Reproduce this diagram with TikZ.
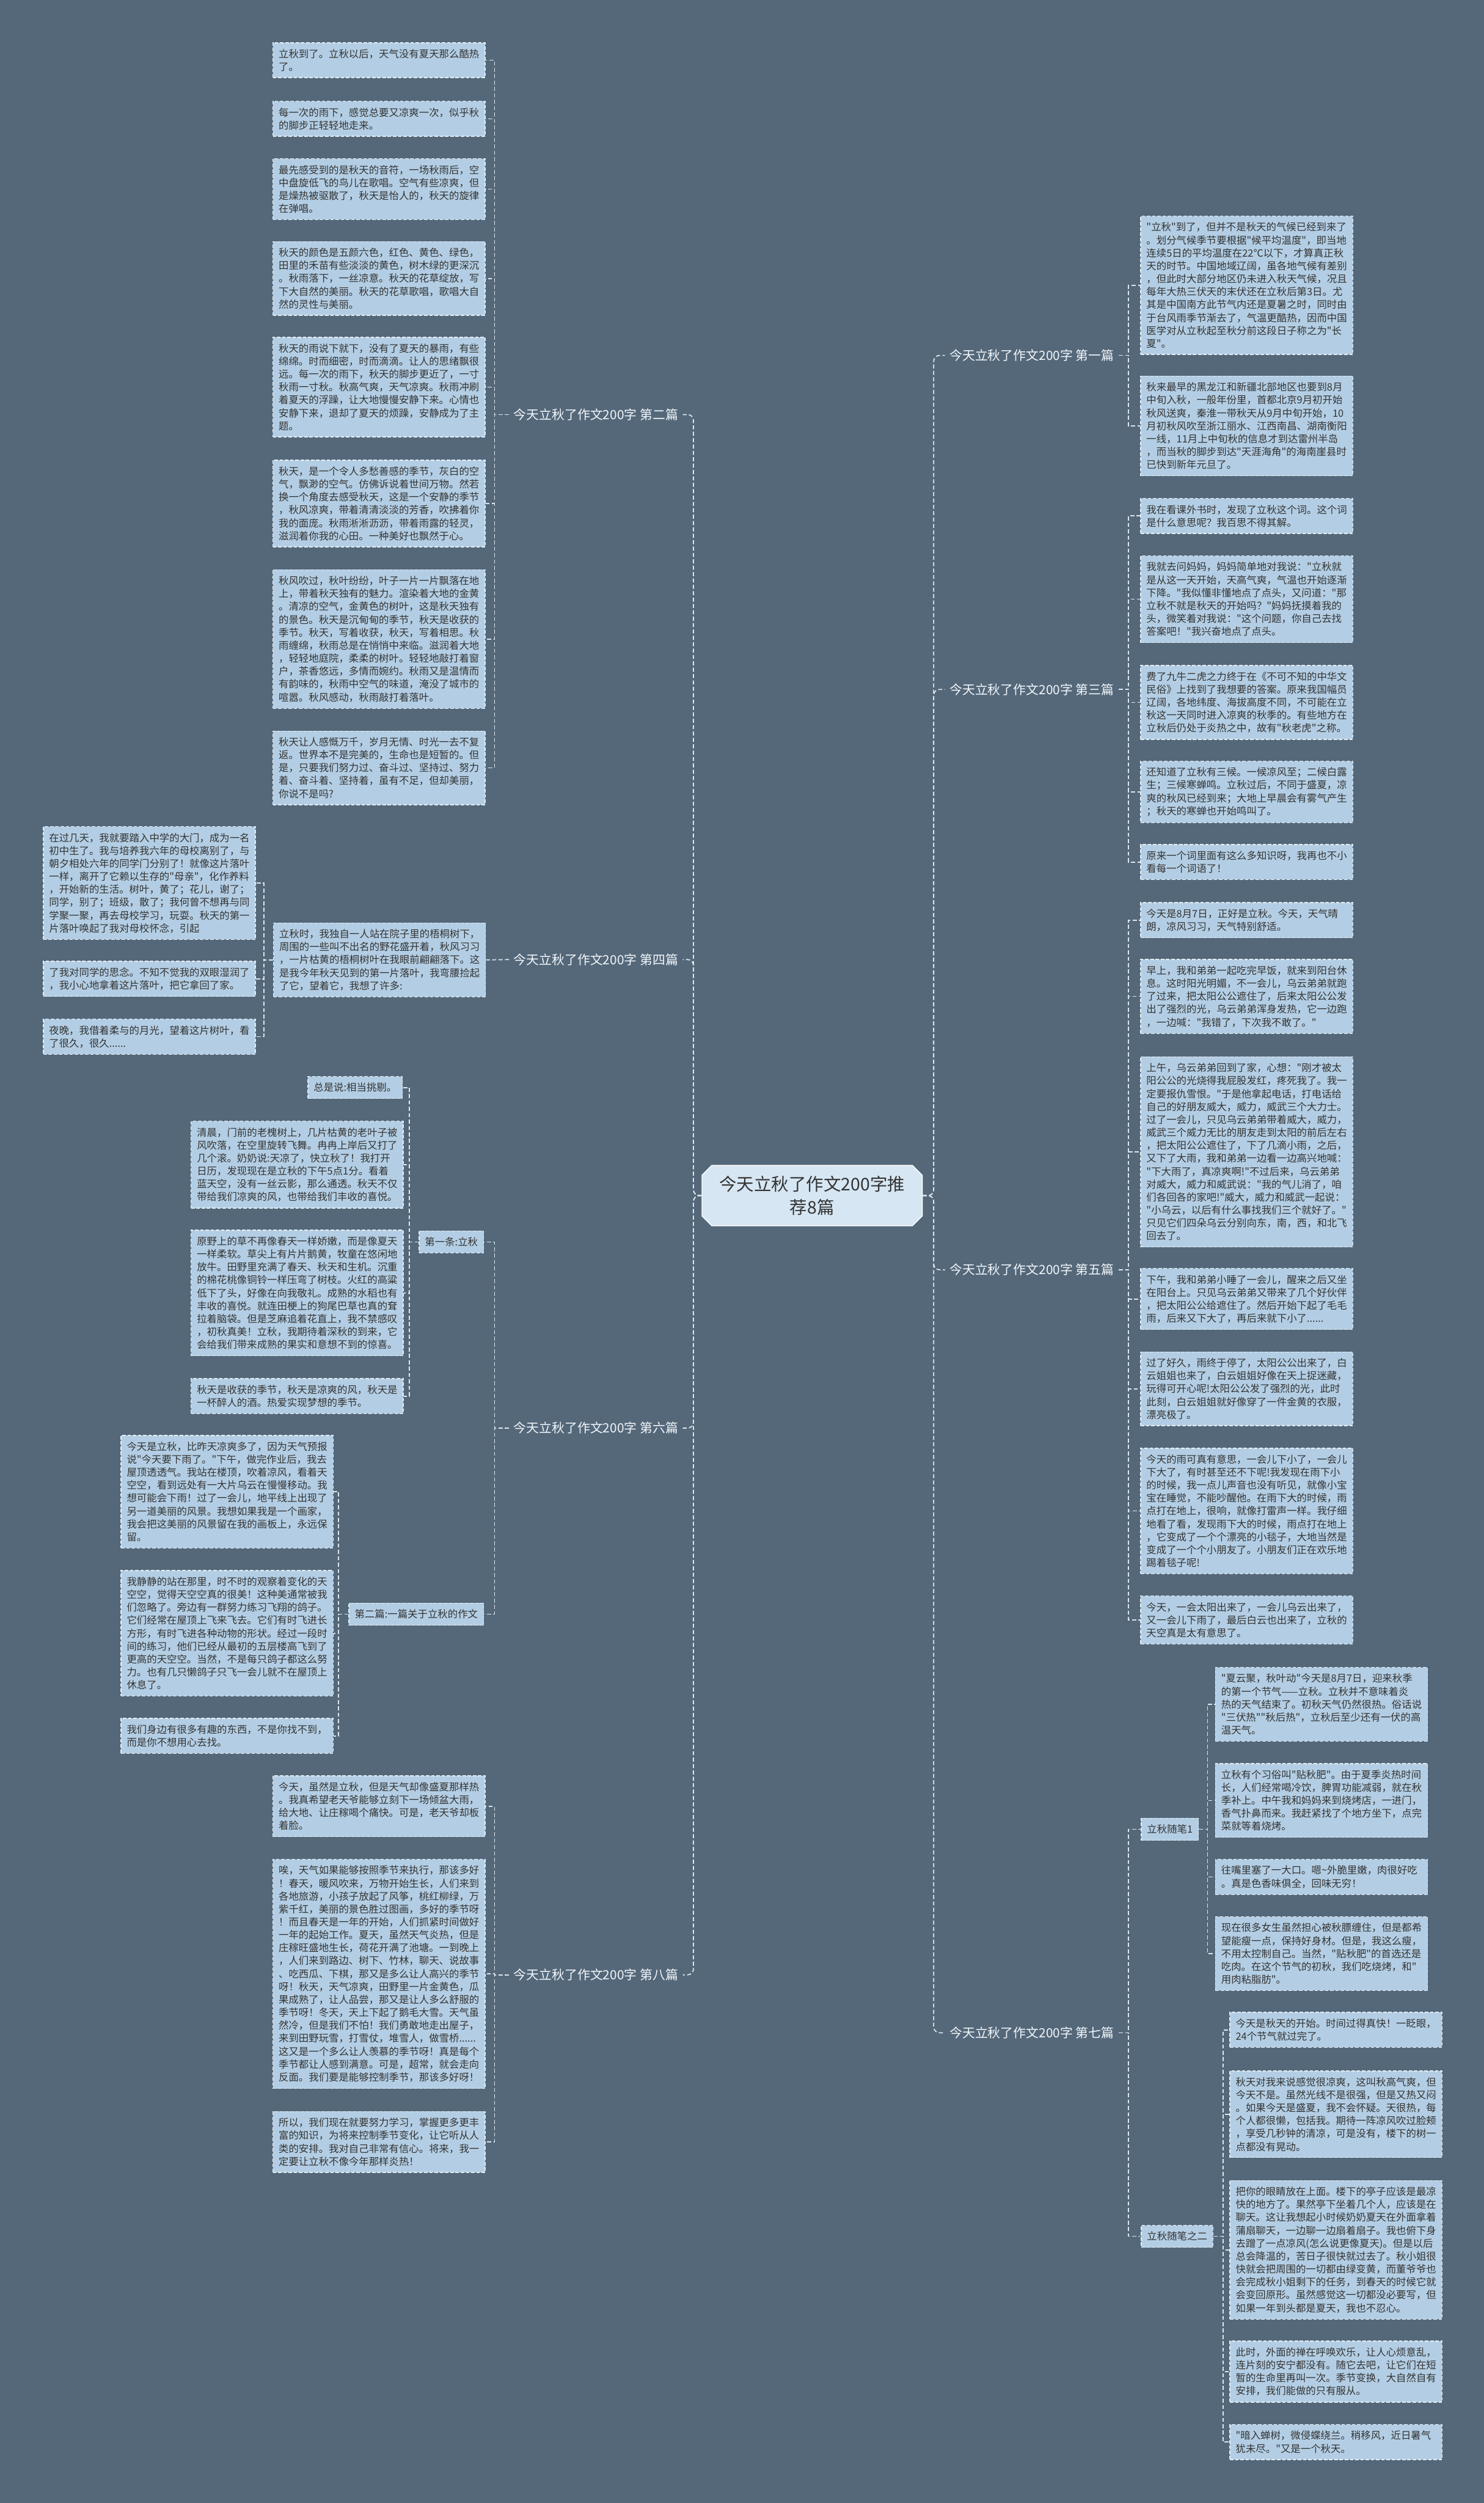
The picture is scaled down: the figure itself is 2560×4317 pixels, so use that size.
\documentclass[tikz,border=0pt]{standalone}
\usepackage{fontspec}
\newfontfamily\cjkfont{Noto Sans CJK SC}
\usetikzlibrary{shapes.misc}
\definecolor{bgc}{HTML}{54687A}
\definecolor{leaffill}{HTML}{B3CEE4}
\definecolor{txt}{HTML}{333333}
\definecolor{bord}{HTML}{E3ECF3}
\definecolor{conncol}{HTML}{DDE6EE}
\definecolor{rootfill}{HTML}{D6E6F3}
\definecolor{labtxt}{HTML}{F2F6FA}
\newcommand{\leaffont}{\cjkfont\fontsize{17.3}{22.3}\selectfont}
\tikzset{
  leaf/.style={draw=bord, dash pattern=on 6pt off 3pt, line width=1.4pt, fill=leaffill, text=txt, font=\leaffont, align=left, text width=346pt, inner xsep=10pt, inner ysep=11pt, anchor=north west},
  subbox/.style={draw=bord, dash pattern=on 6pt off 3pt, line width=1.4pt, fill=leaffill, text=txt, font=\leaffont, inner xsep=10pt, inner ysep=11pt},
  branch/.style={text=labtxt, font=\cjkfont\fontsize{22}{26}\selectfont, inner xsep=8pt, inner ysep=6pt},
  conn/.style={draw=conncol, line width=1.8pt, dash pattern=on 7pt off 4pt},
  root/.style={chamfered rectangle, chamfered rectangle xsep=14pt, draw=white, line width=1.5pt, fill=rootfill, text=txt, font=\cjkfont\fontsize{30}{40}\selectfont, align=center, minimum width=380pt, minimum height=104pt, inner sep=4pt}
}
\begin{document}
\begin{tikzpicture}[x=1pt,y=-1pt]
\fill[bgc] (0,0) rectangle (2560,4317);
\useasboundingbox (0,0) rectangle (2560,4317);

% root
\node[root] (root) at (1401,2062) {今天立秋了作文200字推\\荐8篇};

% branch labels
\node[branch, anchor=east] (b2) at (1178,715) {今天立秋了作文200字 第二篇};
\node[branch, anchor=east] (b4) at (1178,1655) {今天立秋了作文200字 第四篇};
\node[branch, anchor=east] (b6) at (1178,2463) {今天立秋了作文200字 第六篇};
\node[branch, anchor=east] (b8) at (1178,3406) {今天立秋了作文200字 第八篇};
\node[branch, anchor=west] (r1) at (1630,613) {今天立秋了作文200字 第一篇};
\node[branch, anchor=west] (r3) at (1630,1189) {今天立秋了作文200字 第三篇};
\node[branch, anchor=west] (r5) at (1630,2190) {今天立秋了作文200字 第五篇};
\node[branch, anchor=west] (r7) at (1630,3506) {今天立秋了作文200字 第七篇};

% 第二篇
\node[leaf] (l2a) at (470,73) {立秋到了。立秋以后，天气没有夏天那么酷热\\了。};
\node[leaf] (l2b) at (470,174) {每一次的雨下，感觉总要又凉爽一次，似乎秋\\的脚步正轻轻地走来。};
\node[leaf] (l2c) at (470,273) {最先感受到的是秋天的音符，一场秋雨后，空\\中盘旋低飞的鸟儿在歌唱。空气有些凉爽，但\\是燥热被驱散了，秋天是怡人的，秋天的旋律\\在弹唱。};
\node[leaf] (l2d) at (470,416) {秋天的颜色是五颜六色，红色、黄色、绿色，\\田里的禾苗有些淡淡的黄色，树木绿的更深沉\\。秋雨落下，一丝凉意。秋天的花草绽放，写\\下大自然的美丽。秋天的花草歌唱，歌唱大自\\然的灵性与美丽。};
\node[leaf] (l2e) at (470,581) {秋天的雨说下就下，没有了夏天的暴雨，有些\\绵绵。时而细密，时而滴滴。让人的思绪飘很\\远。每一次的雨下，秋天的脚步更近了，一寸\\秋雨一寸秋。秋高气爽，天气凉爽。秋雨冲刷\\着夏天的浮躁，让大地慢慢安静下来。心情也\\安静下来，退却了夏天的烦躁，安静成为了主\\题。};
\node[leaf] (l2f) at (470,793) {秋天，是一个令人多愁善感的季节，灰白的空\\气，飘渺的空气。仿佛诉说着世间万物。然若\\换一个角度去感受秋天，这是一个安静的季节\\，秋风凉爽，带着清清淡淡的芳香，吹拂着你\\我的面庞。秋雨淅淅沥沥，带着雨露的轻灵，\\滋润着你我的心田。一种美好也飘然于心。};
\node[leaf] (l2g) at (470,982) {秋风吹过，秋叶纷纷，叶子一片一片飘落在地\\上，带着秋天独有的魅力。渲染着大地的金黄\\。清凉的空气，金黄色的树叶，这是秋天独有\\的景色。秋天是沉甸甸的季节，秋天是收获的\\季节。秋天，写着收获，秋天，写着相思。秋\\雨缠绵，秋雨总是在悄悄中来临。滋润着大地\\，轻轻地庭院，柔柔的树叶。轻轻地敲打着窗\\户，茶香悠远，多情而婉约。秋雨又是温情而\\有韵味的，秋雨中空气的味道，淹没了城市的\\喧嚣。秋风感动，秋雨敲打着落叶。};
\node[leaf] (l2h) at (470,1260) {秋天让人感慨万千，岁月无情、时光一去不复\\返。世界本不是完美的，生命也是短暂的。但\\是，只要我们努力过、奋斗过、坚持过、努力\\着、奋斗着、坚持着，虽有不足，但却美丽，\\你说不是吗?};

% 第四篇
\node[leaf] (d4) at (471,1591) {立秋时，我独自一人站在院子里的梧桐树下，\\周围的一些叫不出名的野花盛开着，秋风习习\\，一片枯黄的梧桐树叶在我眼前翩翩落下。这\\是我今年秋天见到的第一片落叶，我弯腰捡起\\了它，望着它，我想了许多:};
\node[leaf] (a4) at (74,1425) {在过几天，我就要踏入中学的大门，成为一名\\初中生了。我与培养我六年的母校离别了，与\\朝夕相处六年的同学门分别了！就像这片落叶\\一样，离开了它赖以生存的"母亲"，化作养料\\，开始新的生活。树叶，黄了；花儿，谢了；\\同学，别了；班级，散了；我何曾不想再与同\\学聚一聚，再去母校学习，玩耍。秋天的第一\\片落叶唤起了我对母校怀念，引起};
\node[leaf] (bb4) at (74,1657) {了我对同学的思念。不知不觉我的双眼湿润了\\，我小心地拿着这片落叶，把它拿回了家。};
\node[leaf] (c4) at (74,1757) {夜晚，我借着柔与的月光，望着这片树叶，看\\了很久，很久......};

% 第六篇
\node[subbox, anchor=east] (s61) at (835,2142) {第一条:立秋};
\node[subbox, anchor=north east] (l61a) at (695,1856) {总是说:相当挑剔。};
\node[leaf] (l61b) at (329,1933) {清晨，门前的老槐树上，几片枯黄的老叶子被\\风吹落，在空里旋转飞舞。冉冉上岸后又打了\\几个滚。奶奶说:天凉了，快立秋了！我打开\\日历，发现现在是立秋的下午5点1分。看着\\蓝天空，没有一丝云影，那么通透。秋天不仅\\带给我们凉爽的风，也带给我们丰收的喜悦。};
\node[leaf] (l61c) at (329,2121) {原野上的草不再像春天一样娇嫩，而是像夏天\\一样柔软。草尖上有片片鹅黄，牧童在悠闲地\\放牛。田野里充满了春天、秋天和生机。沉重\\的棉花桃像铜铃一样压弯了树枝。火红的高粱\\低下了头，好像在向我敬礼。成熟的水稻也有\\丰收的喜悦。就连田梗上的狗尾巴草也真的耷\\拉着脑袋。但是芝麻追着花直上，我不禁感叹\\，初秋真美！立秋，我期待着深秋的到来，它\\会给我们带来成熟的果实和意想不到的惊喜。};
\node[leaf] (l61d) at (329,2377) {秋天是收获的季节，秋天是凉爽的风，秋天是\\一杯醉人的酒。热爱实现梦想的季节。};
\node[subbox, anchor=east] (s62) at (835,2784) {第二篇:一篇关于立秋的作文};
\node[leaf] (l62a) at (208,2475) {今天是立秋，比昨天凉爽多了，因为天气预报\\说"今天要下雨了。"下午，做完作业后，我去\\屋顶透透气。我站在楼顶，吹着凉风，看着天\\空空，看到远处有一大片乌云在慢慢移动。我\\想可能会下雨！过了一会儿，地平线上出现了\\另一道美丽的风景。我想如果我是一个画家，\\我会把这美丽的风景留在我的画板上，永远保\\留。};
\node[leaf] (l62b) at (208,2708) {我静静的站在那里，时不时的观察着变化的天\\空空，觉得天空空真的很美！这种美通常被我\\们忽略了。旁边有一群努力练习飞翔的鸽子。\\它们经常在屋顶上飞来飞去。它们有时飞进长\\方形，有时飞进各种动物的形状。经过一段时\\间的练习，他们已经从最初的五层楼高飞到了\\更高的天空空。当然，不是每只鸽子都这么努\\力。也有几只懒鸽子只飞一会儿就不在屋顶上\\休息了。};
\node[leaf] (l62c) at (208,2963) {我们身边有很多有趣的东西，不是你找不到，\\而是你不想用心去找。};

% 第八篇
\node[leaf] (l8a) at (470,3062) {今天，虽然是立秋，但是天气却像盛夏那样热\\。我真希望老天爷能够立刻下一场倾盆大雨，\\给大地、让庄稼喝个痛快。可是，老天爷却板\\着脸。};
\node[leaf] (l8b) at (470,3206) {唉，天气如果能够按照季节来执行，那该多好\\！春天，暖风吹来，万物开始生长，人们来到\\各地旅游，小孩子放起了风筝，桃红柳绿，万\\紫千红，美丽的景色胜过图画，多好的季节呀\\！而且春天是一年的开始，人们抓紧时间做好\\一年的起始工作。夏天，虽然天气炎热，但是\\庄稼旺盛地生长，荷花开满了池塘。一到晚上\\，人们来到路边、树下、竹林，聊天、说故事\\、吃西瓜、下棋，那又是多么让人高兴的季节\\呀！秋天，天气凉爽，田野里一片金黄色，瓜\\果成熟了，让人品尝，那又是让人多么舒服的\\季节呀！冬天，天上下起了鹅毛大雪。天气虽\\然冷，但是我们不怕！我们勇敢地走出屋子，\\来到田野玩雪，打雪仗，堆雪人，做雪桥......\\这又是一个多么让人羡慕的季节呀！真是每个\\季节都让人感到满意。可是，超常，就会走向\\反面。我们要是能够控制季节，那该多好呀！};
\node[leaf] (l8c) at (470,3641) {所以，我们现在就要努力学习，掌握更多更丰\\富的知识，为将来控制季节变化，让它听从人\\类的安排。我对自己非常有信心。将来，我一\\定要让立秋不像今年那样炎热！};

% 第一篇
\node[leaf] (l1a) at (1967,372) {"立秋"到了，但并不是秋天的气候已经到来了\\。划分气候季节要根据"候平均温度"，即当地\\连续5日的平均温度在22℃以下，才算真正秋\\天的时节。中国地域辽阔，虽各地气候有差别\\，但此时大部分地区仍未进入秋天气候，况且\\每年大热三伏天的末伏还在立秋后第3日。尤\\其是中国南方此节气内还是夏暑之时，同时由\\于台风雨季节渐去了，气温更酷热，因而中国\\医学对从立秋起至秋分前这段日子称之为"长\\夏"。};
\node[leaf] (l1b) at (1967,648) {秋来最早的黑龙江和新疆北部地区也要到8月\\中旬入秋，一般年份里，首都北京9月初开始\\秋风送爽，秦淮一带秋天从9月中旬开始，10\\月初秋风吹至浙江丽水、江西南昌、湖南衡阳\\一线，11月上中旬秋的信息才到达雷州半岛\\，而当秋的脚步到达"天涯海角"的海南崖县时\\已快到新年元旦了。};

% 第三篇
\node[leaf] (l3a) at (1967,859) {我在看课外书时，发现了立秋这个词。这个词\\是什么意思呢？我百思不得其解。};
\node[leaf] (l3b) at (1967,958) {我就去问妈妈，妈妈简单地对我说："立秋就\\是从这一天开始，天高气爽，气温也开始逐渐\\下降。"我似懂非懂地点了点头，又问道："那\\立秋不就是秋天的开始吗？"妈妈抚摸着我的\\头，微笑着对我说："这个问题，你自己去找\\答案吧！"我兴奋地点了点头。};
\node[leaf] (l3c) at (1967,1147) {费了九牛二虎之力终于在《不可不知的中华文\\民俗》上找到了我想要的答案。原来我国幅员\\辽阔，各地纬度、海拔高度不同，不可能在立\\秋这一天同时进入凉爽的秋季的。有些地方在\\立秋后仍处于炎热之中，故有"秋老虎"之称。};
\node[leaf] (l3d) at (1967,1312) {还知道了立秋有三候。一候凉风至；二候白露\\生；三候寒蝉鸣。立秋过后，不同于盛夏，凉\\爽的秋风已经到来；大地上早晨会有雾气产生\\；秋天的寒蝉也开始鸣叫了。};
\node[leaf] (l3e) at (1967,1456) {原来一个词里面有这么多知识呀，我再也不小\\看每一个词语了！};

% 第五篇
\node[leaf] (l5a) at (1967,1556) {今天是8月7日，正好是立秋。今天，天气晴\\朗，凉风习习，天气特别舒适。};
\node[leaf] (l5b) at (1967,1654) {早上，我和弟弟一起吃完早饭，就来到阳台休\\息。这时阳光明媚，不一会儿，乌云弟弟就跑\\了过来，把太阳公公遮住了，后来太阳公公发\\出了强烈的光，乌云弟弟浑身发热，它一边跑\\，一边喊："我错了，下次我不敢了。"};
\node[leaf] (l5c) at (1967,1822) {上午，乌云弟弟回到了家，心想："刚才被太\\阳公公的光烧得我屁股发红，疼死我了。我一\\定要报仇雪恨。"于是他拿起电话，打电话给\\自己的好朋友威大，威力，威武三个大力士。\\过了一会儿，只见乌云弟弟带着威大，威力，\\威武三个威力无比的朋友走到太阳的前后左右\\，把太阳公公遮住了，下了几滴小雨，之后，\\又下了大雨，我和弟弟一边看一边高兴地喊：\\"下大雨了，真凉爽啊!"不过后来，乌云弟弟\\对威大，威力和威武说："我的气儿消了，咱\\们各回各的家吧!"威大，威力和威武一起说：\\"小乌云，以后有什么事找我们三个就好了。"\\只见它们四朵乌云分别向东，南，西，和北飞\\回去了。};
\node[leaf] (l5d) at (1967,2187) {下午，我和弟弟小睡了一会儿，醒来之后又坐\\在阳台上。只见乌云弟弟又带来了几个好伙伴\\，把太阳公公给遮住了。然后开始下起了毛毛\\雨，后来又下大了，再后来就下小了......};
\node[leaf] (l5e) at (1967,2331) {过了好久，雨终于停了，太阳公公出来了，白\\云姐姐也来了，白云姐姐好像在天上捉迷藏，\\玩得可开心呢!太阳公公发了强烈的光，此时\\此刻，白云姐姐就好像穿了一件金黄的衣服，\\漂亮极了。};
\node[leaf] (l5f) at (1967,2497) {今天的雨可真有意思，一会儿下小了，一会儿\\下大了，有时甚至还不下呢!我发现在雨下小\\的时候，我一点儿声音也没有听见，就像小宝\\宝在睡觉，不能吵醒他。在雨下大的时候，雨\\点打在地上，很响，就像打雷声一样。我仔细\\地看了看，发现雨下大的时候，雨点打在地上\\，它变成了一个个漂亮的小毯子，大地当然是\\变成了一个个小朋友了。小朋友们正在欢乐地\\踢着毯子呢!};
\node[leaf] (l5g) at (1967,2752) {今天，一会太阳出来了，一会儿乌云出来了，\\又一会儿下雨了，最后白云也出来了，立秋的\\天空真是太有意思了。};

% 第七篇
\node[subbox, anchor=west] (s71) at (1968,3155) {立秋随笔1};
\node[subbox, anchor=west] (s72) at (1968,3857) {立秋随笔之二};
\node[leaf] (l71a) at (2096,2875) {"夏云聚，秋叶动"今天是8月7日，迎来秋季\\的第一个节气——立秋。立秋并不意味着炎\\热的天气结束了。初秋天气仍然很热。俗话说\\"三伏热""秋后热"，立秋后至少还有一伏的高\\温天气。};
\node[leaf] (l71b) at (2096,3041) {立秋有个习俗叫"贴秋肥"。由于夏季炎热时间\\长，人们经常喝冷饮，脾胃功能减弱，就在秋\\季补上。中午我和妈妈来到烧烤店，一进门，\\香气扑鼻而来。我赶紧找了个地方坐下，点完\\菜就等着烧烤。};
\node[leaf] (l71c) at (2096,3206) {往嘴里塞了一大口。嗯\textasciitilde 外脆里嫩，肉很好吃\\。真是色香味俱全，回味无穷！};
\node[leaf] (l71d) at (2096,3305) {现在很多女生虽然担心被秋膘缠住，但是都希\\望能瘦一点，保持好身材。但是，我这么瘦，\\不用太控制自己。当然，"贴秋肥"的首选还是\\吃肉。在这个节气的初秋，我们吃烧烤，和"\\用肉粘脂肪"。};
\node[leaf] (l72a) at (2121,3470) {今天是秋天的开始。时间过得真快！一眨眼，\\24个节气就过完了。};
\node[leaf] (l72b) at (2121,3571) {秋天对我来说感觉很凉爽，这叫秋高气爽，但\\今天不是。虽然光线不是很强，但是又热又闷\\。如果今天是盛夏，我不会怀疑。天很热，每\\个人都很懒，包括我。期待一阵凉风吹过脸颊\\，享受几秒钟的清凉，可是没有，楼下的树一\\点都没有晃动。};
\node[leaf] (l72c) at (2121,3760) {把你的眼睛放在上面。楼下的亭子应该是最凉\\快的地方了。果然亭下坐着几个人，应该是在\\聊天。这让我想起小时候奶奶夏天在外面拿着\\蒲扇聊天，一边聊一边扇着扇子。我也俯下身\\去蹭了一点凉风(怎么说更像夏天)。但是以后\\总会降温的，苦日子很快就过去了。秋小姐很\\快就会把周围的一切都由绿变黄，而董爷爷也\\会完成秋小姐剩下的任务，到春天的时候它就\\会变回原形。虽然感觉这一切都没必要写，但\\如果一年到头都是夏天，我也不忍心。};
\node[leaf] (l72d) at (2121,4037) {此时，外面的禅在呼唤欢乐，让人心烦意乱，\\连片刻的安宁都没有。随它去吧，让它们在短\\暂的生命里再叫一次。季节变换，大自然自有\\安排，我们能做的只有服从。};
\node[leaf] (l72e) at (2121,4181) {"暗入蝉树，微侵蝶绕兰。稍移风，近日暑气\\犹未尽。"又是一个秋天。};

% connectors: trunk
\foreach \n in {b2,b4,b6,b8}
  \draw[conn, rounded corners=10pt] (root.west) -- ++(-14,0) |- (\n.east);
\foreach \n in {r1,r3,r5,r7}
  \draw[conn, rounded corners=10pt] (root.east) -- ++(19,0) |- (\n.west);

% left groups
\foreach \n in {l2a,l2b,l2c,l2d,l2e,l2f,l2g,l2h}
  \draw[conn] (b2.west) -- ++(-25,0) |- (\n.east);
\draw[conn] (b4.west) -- (d4.east);
\foreach \n in {a4,bb4,c4}
  \draw[conn] (d4.west) -- ++(-16,0) |- (\n.east);
\foreach \n in {s61,s62}
  \draw[conn] (b6.west) -- ++(-25,0) |- (\n.east);
\foreach \n in {l61a,l61b,l61c,l61d}
  \draw[conn] (s61.west) -- ++(-16,0) |- (\n.east);
\foreach \n in {l62a,l62b,l62c}
  \draw[conn] (s62.west) -- ++(-17,0) |- (\n.east);
\foreach \n in {l8a,l8b,l8c}
  \draw[conn] (b8.west) -- ++(-25,0) |- (\n.east);

% right groups
\foreach \n in {l1a,l1b}
  \draw[conn] (r1.east) -- ++(17,0) |- (\n.west);
\foreach \n in {l3a,l3b,l3c,l3d,l3e}
  \draw[conn] (r3.east) -- ++(17,0) |- (\n.west);
\foreach \n in {l5a,l5b,l5c,l5d,l5e,l5f,l5g}
  \draw[conn] (r5.east) -- ++(17,0) |- (\n.west);
\foreach \n in {s71,s72}
  \draw[conn] (r7.east) -- ++(17,0) |- (\n.west);
\foreach \n in {l71a,l71b,l71c,l71d}
  \draw[conn] (s71.east) -- ++(15,0) |- (\n.west);
\foreach \n in {l72a,l72b,l72c,l72d,l72e}
  \draw[conn] (s72.east) -- ++(17,0) |- (\n.west);
\end{tikzpicture}
\end{document}
